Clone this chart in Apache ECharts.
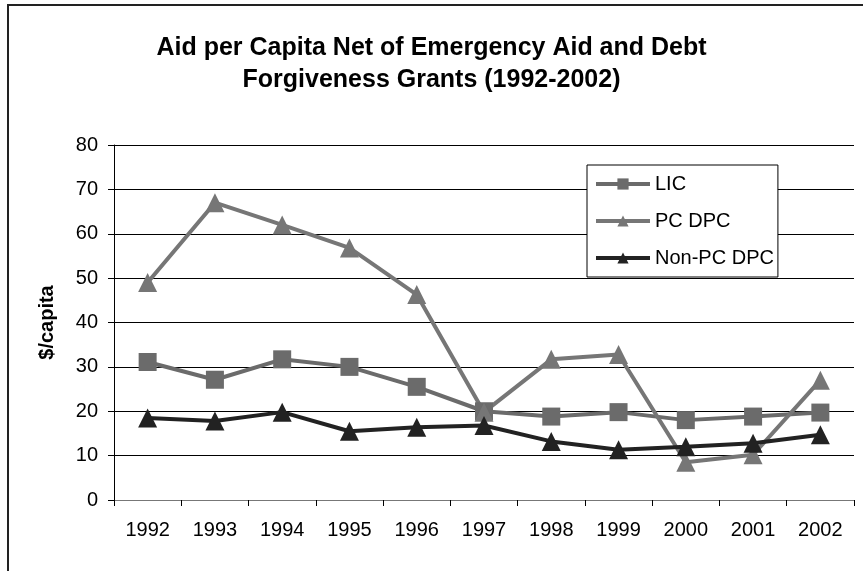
<!DOCTYPE html>
<html>
<head>
<meta charset="utf-8">
<title>Aid per Capita Net of Emergency Aid and Debt Forgiveness Grants (1992-2002)</title>
<script src="https://cdn.jsdelivr.net/npm/echarts@6/dist/echarts.min.js"></script>
<style>
  html, body { margin: 0; padding: 0; background: #fff; }
  #chart { width: 863px; height: 571px; }
</style>
</head>
<body>
<div id="chart"></div>
<script>
// Years on the category axis
const years = ['1992', '1993', '1994', '1995', '1996', '1997', '1998', '1999', '2000', '2001', '2002'];

// Aid per capita ($) by country group
const licValues = [31.1, 27.1, 31.7, 30.0, 25.5, 20.0, 18.8, 19.8, 18.0, 18.8, 19.7];
const pcDpcValues = [49.0, 67.0, 62.0, 56.8, 46.3, 19.8, 31.7, 32.8, 8.5, 10.2, 27.0];
const nonPcDpcValues = [18.5, 17.8, 19.8, 15.5, 16.4, 16.8, 13.2, 11.3, 12.0, 12.8, 14.7];

const seriesNames = ['LIC', 'PC DPC', 'Non-PC DPC'];

const FONT = '"Liberation Sans", Arial, sans-serif';

const chart = echarts.init(document.getElementById('chart'), null, { renderer: 'canvas' });

// one colour per split line (0..80); the top line is drawn faint
const gridColors = ['#000', '#000', '#000', '#000', '#000', '#000', '#000', '#000', '#c8c8c8'];

function lineSeries(name, data, color, symbol, size) {
  return {
    name: name,
    type: 'line',
    data: data,
    symbol: symbol,
    symbolSize: size,
    showSymbol: true,
    animation: false,
    lineStyle: { color: color, width: 4 },
    itemStyle: { color: color },
    emphasis: { disabled: true }
  };
}

chart.setOption({
  animation: false,
  backgroundColor: '#fff',
  textStyle: { fontFamily: FONT },
  title: {
    text: 'Aid per Capita Net of Emergency Aid and Debt\nForgiveness Grants (1992-2002)',
    left: 'center',
    top: 27,
    textStyle: {
      fontFamily: FONT,
      fontSize: 25,
      fontWeight: 'bold',
      color: '#000',
      lineHeight: 32
    }
  },
  legend: {
    data: seriesNames,
    orient: 'vertical',
    left: 587,
    top: 165,
    itemWidth: 54,
    itemHeight: 14,
    itemGap: 17,
    padding: [9, 4, 9, 7],
    backgroundColor: '#fff',
    borderColor: '#000',
    borderWidth: 1,
    borderRadius: 0,
    selectedMode: false,
    lineStyle: { width: 4 },
    textStyle: { fontFamily: FONT, fontSize: 20, color: '#000' }
  },
  grid: {
    left: 114,
    right: 9,
    top: 145,
    bottom: 71,
    containLabel: false
  },
  xAxis: {
    type: 'category',
    data: years,
    boundaryGap: true,
    axisLine: { show: true, lineStyle: { color: '#777', width: 1 } },
    axisTick: { show: true, alignWithLabel: false, length: 6, inside: false, lineStyle: { color: '#000' } },
    axisLabel: { fontFamily: FONT, fontSize: 20, color: '#000', margin: 20 },
    splitLine: { show: false }
  },
  yAxis: {
    type: 'value',
    min: 0,
    max: 80,
    interval: 10,
    name: '$/capita',
    nameLocation: 'middle',
    nameRotate: 90,
    nameGap: 57,
    nameTextStyle: { fontFamily: FONT, fontSize: 20, fontWeight: 'bold', color: '#000' },
    axisLine: { show: true, lineStyle: { color: '#000', width: 1 } },
    axisTick: { show: true, length: 6, inside: false, lineStyle: { color: '#000' } },
    axisLabel: { fontFamily: FONT, fontSize: 20, color: '#000', margin: 16 },
    splitLine: { show: true, showMinLine: false, lineStyle: { color: gridColors, width: 1 } }
  },
  graphic: [{
    type: 'rect',
    silent: true,
    z: 100,
    shape: { x: 8, y: 5, width: 900, height: 620 },
    style: { fill: null, stroke: '#222', lineWidth: 2 }
  }],
  series: [
    lineSeries(seriesNames[0], licValues, '#6b6b6b', 'rect', 18),
    lineSeries(seriesNames[1], pcDpcValues, '#767676', 'triangle', 19),
    lineSeries(seriesNames[2], nonPcDpcValues, '#222222', 'triangle', 19)
  ]
});
</script>
</body>
</html>
